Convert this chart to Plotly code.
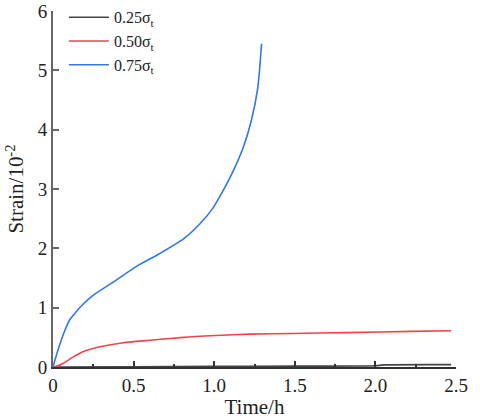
import plotly.graph_objects as go

# strain curves (time in h, strain in 1e-2)
t_025 = [0, 0.5, 1.0, 1.5, 2.0, 2.05, 2.47]
s_025 = [0, 0.005, 0.01, 0.015, 0.02, 0.035, 0.04]

t_050 = [0, 0.03, 0.062, 0.126, 0.19, 0.29, 0.435, 0.6, 0.81, 1.01, 1.22, 1.49, 1.82, 2.23, 2.47]
s_050 = [0, 0.02, 0.06, 0.17, 0.26, 0.34, 0.41, 0.45, 0.50, 0.53, 0.555, 0.565, 0.58, 0.60, 0.61]

t_075 = [0, 0.03, 0.074, 0.105, 0.14, 0.18, 0.25, 0.39, 0.52, 0.66, 0.81, 0.91, 0.99,
         1.03, 1.11, 1.18, 1.23, 1.27, 1.294]
s_075 = [0, 0.28, 0.62, 0.80, 0.92, 1.04, 1.21, 1.46, 1.70, 1.91, 2.16, 2.41, 2.67,
         2.85, 3.26, 3.70, 4.15, 4.70, 5.45]

names = ["0.25σ<sub>t</sub>", "0.50σ<sub>t</sub>", "0.75σ<sub>t</sub>"]
colors = ["#444444", "#f0434c", "#2f78e6"]

x_ticks = [0, 0.5, 1.0, 1.5, 2.0, 2.5]
x_tick_text = ["0", "0.5", "1.0", "1.5", "2.0", "2.5"]
y_ticks = [0, 1, 2, 3, 4, 5, 6]

fig = go.Figure()
for tx, sy, nm, c in zip([t_025, t_050, t_075], [s_025, s_050, s_075], names, colors):
    fig.add_trace(go.Scatter(x=tx, y=sy, name=nm, mode="lines",
                             line=dict(color=c, width=1.6, shape="spline", smoothing=0.6)))

font = dict(family="Liberation Serif, Times New Roman, serif", size=19, color="#222")

fig.update_layout(
    width=480, height=419,
    margin=dict(l=53, r=24, t=11, b=52, autoexpand=False),
    plot_bgcolor="white", paper_bgcolor="white",
    font=font,
    showlegend=True,
    legend=dict(x=0.027, y=1.03, xanchor="left", yanchor="top",
                bgcolor="rgba(0,0,0,0)", font=dict(size=16),
                tracegroupgap=0, itemwidth=40),
    xaxis=dict(range=[0, 2.5], tickvals=x_ticks, ticktext=x_tick_text,
               automargin=False,
               showgrid=False, zeroline=False, showline=True,
               linecolor="#333", linewidth=2, ticks="inside", ticklen=6,
               tickcolor="#333", tickwidth=1.5,
               minor=dict(dtick=0.25, ticks="inside", ticklen=3, tickcolor="#333"),
               title=dict(text="Time/h", font=dict(size=21), standoff=2)),
    yaxis=dict(range=[0, 6.001], tickvals=y_ticks,
               automargin=False, ticklabeloverflow="allow",
               showgrid=False, zeroline=False, showline=True,
               linecolor="#666", linewidth=2, ticks="inside", ticklen=6,
               tickcolor="#666", tickwidth=1.5,
               title=dict(text="Strain/10<sup>-2</sup>", font=dict(size=21), standoff=8)),
)

# the page body has a default 8px margin; drop it so the figure fills the window
fig.write_html("out.html", config={"displayModeBar": False},
               post_script="document.body.style.margin='0';")
